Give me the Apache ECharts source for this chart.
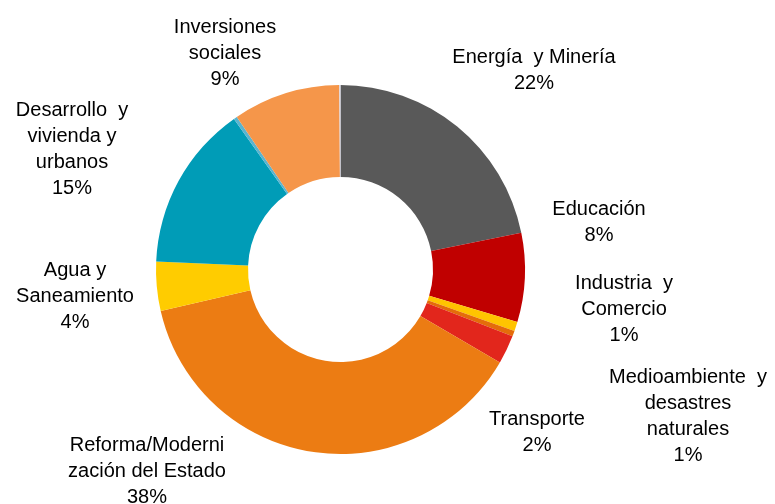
<!DOCTYPE html>
<html>
<head>
<meta charset="utf-8">
<script src="https://cdn.jsdelivr.net/npm/echarts@6/dist/echarts.min.js"></script>
<style>html,body{margin:0;padding:0;background:#fff;}#c{width:775px;height:504px;}</style>
</head>
<body>
<div id="c"></div>
<script>
// Data (clockwise from 12 o'clock)
const categories = [
  "Energía  y Minería",
  "Educación",
  "Industria  y\nComercio",
  "Medioambiente  y\ndesastres\nnaturales",
  "Transporte",
  "Reforma/Moderni\nzación del Estado",
  "Agua y\nSaneamiento",
  "Desarrollo  y\nvivienda y\nurbanos",
  "",
  "Inversiones\nsociales",
  ""
];
const values = [21.8, 7.8, 0.8, 0.5, 2.5, 38.0, 4.3, 14.5, 0.3, 9.4, 0.1];
const pctLabels = ["22%", "8%", "1%", "1%", "2%", "38%", "4%", "15%", "", "9%", ""];

const palette = ["#595959", "#C00000", "#FFC400", "#E46C0A", "#E2261C", "#EC7C13", "#FFCC00", "#009CB7", "#5AB4D0", "#F5964A", "#D8D8E8"];
// label anchor (center x, top y) per slice
const labelPos = [[534,44],[599,196],[624,270],[688,364],[537,406],[147,432],[75,257],[72,97],null,[225,14],null];

const chart = echarts.init(document.getElementById('c'), null, {renderer: 'canvas'});
const data = categories.map((n, i) => ({
  name: n,
  value: values[i],
  itemStyle: {color: palette[i]},
  label: {show: pctLabels[i] !== ""}
}));
chart.setOption({
  animation: false,
  backgroundColor: '#fff',
  series: [{
    type: 'pie',
    center: [340.5, 269.5],
    radius: [92.5, 184.5],
    startAngle: 90,
    clockwise: true,
    avoidLabelOverlap: false,
    silent: true,
    itemStyle: {borderWidth: 0},
    labelLine: {show: false},
    label: {
      position: 'outside',
      formatter: p => p.name + "\n" + pctLabels[p.dataIndex],
      fontFamily: 'Liberation Sans, Arial, sans-serif',
      fontSize: 20,
      lineHeight: 26,
      color: '#000',
      align: 'center'
    },
    labelLayout: p => {
      const pos = labelPos[p.dataIndex];
      if (!pos) return {};
      return {x: pos[0], y: pos[1], align: 'center', verticalAlign: 'top', hideOverlap: false};
    },
    data: data
  }]
});
</script>
</body>
</html>
